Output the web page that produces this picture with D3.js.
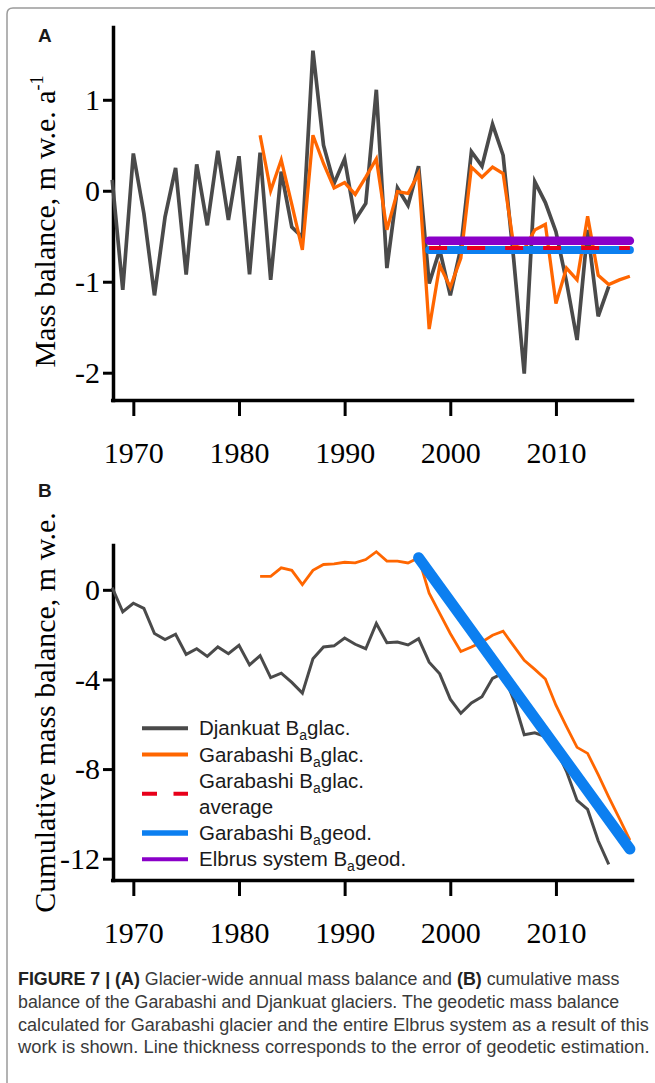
<!DOCTYPE html>
<html>
<head>
<meta charset="utf-8">
<script src="https://cdn.jsdelivr.net/npm/d3@7"></script>
<style>
  body { margin: 0; background: #fff; }
  svg { display: block; }
</style>
</head>
<body>
<svg id="chart"></svg>
<script>
// values
const djankuatYears = [1968, 1969, 1970, 1971, 1972, 1973, 1974, 1975, 1976, 1977, 1978, 1979,
    1980, 1981, 1982, 1983, 1984, 1985, 1986, 1987, 1988, 1989, 1990, 1991, 1992, 1993, 1994,
    1995, 1996, 1997, 1998, 1999, 2000, 2001, 2002, 2003, 2004, 2005, 2006, 2007, 2008, 2009,
    2010, 2011, 2012, 2013, 2014, 2015]
const djankuatAnnual = [0.12, -1.09, 0.41, -0.25, -1.15, -0.29, 0.25, -0.92, 0.29, -0.38, 0.44, -0.32,
    0.38, -0.92, 0.42, -0.98, 0.21, -0.40, -0.51, 1.54, 0.50, 0.08, 0.35, -0.32, -0.14, 1.11, -0.85,
    0.03, -0.16, 0.27, -1.02, -0.65, -1.15, -0.63, 0.43, 0.27, 0.73, 0.39, -0.75, -2.01, 0.10, -0.13,
    -0.45, -1.00, -1.64, -0.43, -1.38, -1.05]
const djankuatCumulative = [0.1, -0.98, -0.6, -0.83, -1.95, -2.22, -1.98, -2.88, -2.63, -2.97, -2.55, -2.85,
    -2.48, -3.35, -2.94, -3.92, -3.72, -4.13, -4.61, -3.08, -2.55, -2.5, -2.15, -2.43, -2.63, -1.5, -2.36,
    -2.33, -2.46, -2.18, -3.23, -3.75, -4.88, -5.51, -5.05, -4.77, -3.95, -3.72, -4.9, -6.47, -6.38, -6.55,
    -7.1, -8.1, -9.4, -9.8, -11.2, -12.25]

const garabashiYears = [1982, 1983, 1984, 1985, 1986, 1987, 1988, 1989, 1990, 1991, 1992, 1993,
    1994, 1995, 1996, 1997, 1998, 1999, 2000, 2001, 2002, 2003, 2004, 2005, 2006, 2007, 2008,
    2009, 2010, 2011, 2012, 2013, 2014, 2015, 2016, 2017]
const garabashiAnnual = [0.61, 0.00, 0.34, -0.15, -0.65, 0.61, 0.30, 0.03, 0.09, -0.04, 0.15, 0.35,
    -0.43, -0.01, -0.03, 0.19, -1.52, -0.82, -1.06, -0.74, 0.26, 0.15, 0.26, 0.19, -0.60, -0.64, -0.43,
    -0.37, -1.24, -0.85, -0.98, -0.28, -0.93, -1.03, -0.98, -0.94]
const garabashiCumulative = [0.6, 0.6, 0.98, 0.87, 0.23, 0.87, 1.13, 1.16, 1.23, 1.2, 1.35, 1.7,
    1.28, 1.28, 1.2, 1.43, -0.15, -1.05, -1.95, -2.75, -2.55, -2.33, -2.03, -1.85, -2.5, -3.15, -3.55,
    -3.98, -5.15, -6.1, -7.03, -7.3, -8.25, -9.25, -10.2, -11.17]

// geodetic period, panel A (annual) and panel B (cumulative)
const geodYears = [1998, 2017]
const garabashiAverage = [-0.63, -0.63]
const garabashiGeod = [-0.65, -0.65]
const elbrusGeod = [-0.55, -0.55]
const geodCumYears = [1997, 2017]
const garabashiGeodCumulative = [1.43, -11.57]

const xTicks = [1970, 1980, 1990, 2000, 2010]
const yTicksA = [-2, -1, 0, 1]
const yTicksB = [-12, -8, -4, 0]

const legendLabels = [
    ["Djankuat B", "a", "glac."],
    ["Garabashi B", "a", "glac."],
    ["Garabashi B", "a", "glac.", "average"],
    ["Garabashi B", "a", "geod."],
    ["Elbrus system B", "a", "geod."]
]

const captionLines = [
    [["FIGURE 7 | ", true], ["(A)", true], [" Glacier-wide annual mass balance and ", false], ["(B)", true], [" cumulative mass", false]],
    [["balance of the Garabashi and Djankuat glaciers. The geodetic mass balance", false]],
    [["calculated for Garabashi glacier and the entire Elbrus system as a result of this", false]],
    [["work is shown. Line thickness corresponds to the error of geodetic estimation.", false]]
]

let config = {}

function initConfig() {
    let width = 655
    let height = 1083
    let serif = "'Liberation Serif', 'Times New Roman', serif"
    let sans = "'Liberation Sans', Arial, sans-serif"
    let captionFont = "'Liberation Sans Narrow', 'Liberation Sans', Arial, sans-serif"
    let colors = {
        djankuat: "#4a4a4a",
        garabashi: "#ff6600",
        average: "#e8001a",
        geod: "#0c7ff0",
        elbrus: "#8a00c8"
    }
    let x = d3.scaleLinear().domain([1968, 2017.2]).range([112.2, 632])
    let yA = d3.scaleLinear().domain([-2.3, 1.8]).range([400, 27])
    let yB = d3.scaleLinear().domain([-12.95, 2]).range([880, 545])
    let svg = d3.select("#chart")
        .attr("width", width)
        .attr("height", height)
    config = {width, height, serif, sans, captionFont, colors, x, yA, yB, svg}
}

function drawFrame() {
    let {svg, width, height} = config
    svg.append("rect")
        .attr("width", width)
        .attr("height", height)
        .attr("fill", "#fff")
    svg.append("path")
        .attr("d", `M7,${height} V14 Q7,8 13,8 H${width}`)
        .attr("fill", "none")
        .attr("stroke", "#9a9a9a")
        .attr("stroke-width", 1.5)
}

function drawAxes(y, yTicks, axisY, letterY, label, labelCenter) {
    let {svg, x, serif, sans} = config

    let xAxis = svg.append("g")
        .attr("transform", `translate(0,${axisY})`)
        .call(d3.axisBottom(x).tickValues(xTicks).tickSize(16).tickSizeOuter(0)
            .tickPadding(26).tickFormat(d3.format("d")))
    let yAxis = svg.append("g")
        .attr("transform", "translate(113,0)")
        .call(d3.axisLeft(y).tickValues(yTicks).tickSize(10).tickSizeOuter(0)
            .tickPadding(3).tickFormat(d => String(d)))

    ;[xAxis, yAxis].forEach(g => {
        g.attr("font-family", serif).attr("font-size", 30)
        g.select(".domain").attr("stroke", "#000").attr("stroke-width", 3.5).attr("stroke-linecap", "square")
        g.selectAll(".tick line").attr("stroke", "#000").attr("stroke-width", 3)
        g.selectAll(".tick text").attr("fill", "#000")
    })

    // rotated axis title, baseline on x = 55
    let title = svg.append("text")
        .attr("transform", `translate(55,${labelCenter}) rotate(-90)`)
        .attr("text-anchor", "middle")
        .attr("font-family", serif)
        .attr("font-size", 30)
        .attr("fill", "#000")
    title.append("tspan").text(label[0])
    if (label[1]) {
        title.append("tspan").attr("font-size", 18).attr("dy", -12).text(label[1])
    }

    svg.append("text")
        .attr("x", 38)
        .attr("y", letterY)
        .attr("font-family", sans)
        .attr("font-weight", "bold")
        .attr("font-size", 19)
        .attr("fill", "#1a1a1a")
        .text(letterY < 300 ? "A" : "B")
}

function drawLine(years, values, y, color, width, extra) {
    let {svg, x} = config
    let line = d3.line()
        .x(d => x(d[0]))
        .y(d => y(d[1]))
    let path = svg.append("path")
        .datum(d3.zip(years, values))
        .attr("d", line)
        .attr("fill", "none")
        .attr("stroke", color)
        .attr("stroke-width", width)
    if (extra) extra(path)
    return path
}

function drawPanelA() {
    let {yA, colors} = config
    drawAxes(yA, yTicksA, 400, 41.7, ["Mass balance, m w.e. a", "-1"], 221.5)

    drawLine(djankuatYears, djankuatAnnual, yA, colors.djankuat, 3.7)
    drawLine(garabashiYears, garabashiAnnual, yA, colors.garabashi, 3.3)

    drawLine(geodYears, garabashiGeod, yA, colors.geod, 8, p => p.attr("stroke-linecap", "round"))
    drawLine(geodYears, elbrusGeod, yA, colors.elbrus, 8.5, p => p.attr("stroke-linecap", "round"))
    drawLine(geodYears, garabashiAverage, yA, colors.average, 4, p => p.attr("stroke-dasharray", "18,20"))
}

function drawPanelB() {
    let {yB, colors} = config
    drawAxes(yB, yTicksB, 880, 496.7, ["Cumulative mass balance, m w.e."], 712.5)

    drawLine(djankuatYears, djankuatCumulative, yB, colors.djankuat, 3)
    drawLine(garabashiYears, garabashiCumulative, yB, colors.garabashi, 2.8)
    drawLine(geodCumYears, garabashiGeodCumulative, yB, colors.geod, 11, p => p.attr("stroke-linecap", "round"))
}

function drawLegend() {
    let {svg, sans, colors} = config
    let rowStart = 728.3
    let rowStep = 26.2
    let styles = [
        {color: colors.djankuat, width: 4},
        {color: colors.garabashi, width: 3.8},
        {color: colors.average, width: 4, dash: "15,16.5"},
        {color: colors.geod, width: 5.5},
        {color: colors.elbrus, width: 4}
    ]
    let row = 0
    legendLabels.forEach((label, i) => {
        let rows = label.length > 3 ? 2 : 1
        let lineY = rowStart + rowStep * (row + (rows - 1) / 2)
        let s = styles[i]
        svg.append("line")
            .attr("x1", 142).attr("x2", 188)
            .attr("y1", lineY).attr("y2", lineY)
            .attr("stroke", s.color)
            .attr("stroke-width", s.width)
            .attr("stroke-dasharray", s.dash || null)

        let text = svg.append("text")
            .attr("x", 199)
            .attr("y", rowStart + rowStep * row + 7)
            .attr("font-family", sans)
            .attr("font-size", 20.5)
            .attr("fill", "#1a1a1a")
        text.append("tspan").text(label[0])
        text.append("tspan").attr("font-size", 14).attr("dy", 5).text(label[1])
        text.append("tspan").attr("dy", -5).text(label[2])
        if (rows > 1) {
            svg.append("text")
                .attr("x", 199)
                .attr("y", rowStart + rowStep * (row + 1) + 7)
                .attr("font-family", sans)
                .attr("font-size", 20.5)
                .attr("fill", "#1a1a1a")
                .text(label[3])
        }
        row += rows
    })
}

function drawCaption() {
    let {svg, captionFont} = config
    let baselines = [985, 1007.8, 1030.5, 1053.3]
    let widths = [602, 602, 631, 632]
    captionLines.forEach((parts, i) => {
        let text = svg.append("text")
            .attr("font-family", captionFont)
            .attr("font-size", 18.5)
            .attr("fill", "#333")
            .style("white-space", "pre")
        parts.forEach(([t, bold]) => {
            text.append("tspan")
                .attr("font-weight", bold ? "bold" : "normal")
                .attr("fill", bold ? "#222" : "#3a3a3a")
                .text(t)
        })
        // squeeze each line to the measured width of the printed caption
        let natural = text.node().getComputedTextLength()
        text.attr("transform", `translate(18,${baselines[i]}) scale(${widths[i] / natural},1)`)
    })
}

function showChart() {
    initConfig()
    drawFrame()
    drawPanelA()
    drawPanelB()
    drawLegend()
    drawCaption()
}

window.addEventListener("load", showChart)
</script>
</body>
</html>
